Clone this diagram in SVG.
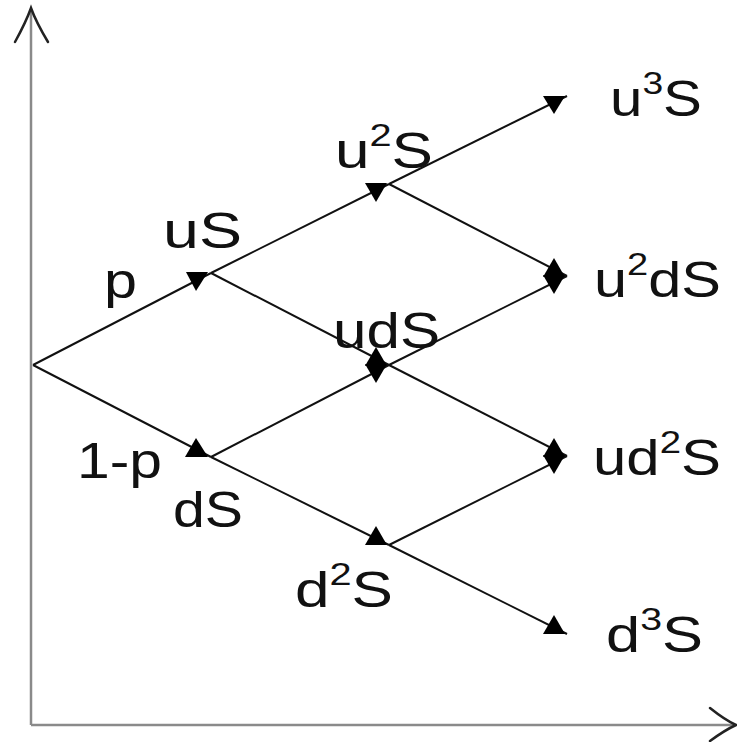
<svg xmlns="http://www.w3.org/2000/svg" width="737" height="742" viewBox="0 0 737 742">
  <style>
    .axis { stroke: #8a8a8a; stroke-width: 2.5; fill: none; }
    .axhead { stroke: #222; stroke-width: 2.5; fill: none; stroke-linecap: round; }
    .edge { stroke: #111; stroke-width: 2; fill: none; }
    .head { fill: #000; stroke: none; }
    text { font-family: "Liberation Sans", Arial, sans-serif; font-size: 50px; fill: #111; }
    .sup { font-size: 32px; }
  </style>
  <rect width="737" height="742" fill="#fff"/>

  <!-- axes -->
  <g id="axes">
    <line class="axis" x1="31" y1="10" x2="31" y2="725"/>
    <line class="axis" x1="31" y1="725" x2="735" y2="725"/>
    <path class="axhead" d="M15,42 Q26,22 31,8 Q36,22 48,42"/>
    <path class="axhead" d="M710,708 Q725,720 736,725 Q725,730 710,741"/>
  </g>

  <!-- branches of the tree -->
  <g id="connectors">
    <line class="edge" x1="33" y1="365" x2="211" y2="273"/>
    <line class="edge" x1="33" y1="365" x2="211" y2="457"/>
    <line class="edge" x1="211" y1="273" x2="389" y2="184"/>
    <line class="edge" x1="211" y1="273" x2="389" y2="365"/>
    <line class="edge" x1="211" y1="457" x2="389" y2="365"/>
    <line class="edge" x1="211" y1="457" x2="389" y2="545"/>
    <line class="edge" x1="389" y1="184" x2="567" y2="96"/>
    <line class="edge" x1="389" y1="184" x2="567" y2="276"/>
    <line class="edge" x1="389" y1="365" x2="567" y2="276"/>
    <line class="edge" x1="389" y1="365" x2="567" y2="456"/>
    <line class="edge" x1="389" y1="545" x2="567" y2="456"/>
    <line class="edge" x1="389" y1="545" x2="567" y2="634"/>
    <!-- arrowheads: rising branches -->
    <polygon class="head" points="186,272 208,272 196,291"/>
    <polygon class="head" points="365,183 387,183 376,202"/>
    <polygon class="head" points="365,364 387,364 376,383"/>
    <polygon class="head" points="543,96 565,96 554,114"/>
    <polygon class="head" points="543,275 565,275 554,294"/>
    <polygon class="head" points="543,455 565,455 554,474"/>
    <!-- arrowheads: falling branches -->
    <polygon class="head" points="196,438 185,457 208,457"/>
    <polygon class="head" points="376,347 365,366 387,366"/>
    <polygon class="head" points="376,526 365,545 387,545"/>
    <polygon class="head" points="554,258 543,277 565,277"/>
    <polygon class="head" points="554,438 543,457 565,457"/>
    <polygon class="head" points="554,615 543,634 565,634"/>
  </g>

  <!-- node labels -->
  <g id="n-u3S"><text x="610" y="116" textLength="92" lengthAdjust="spacingAndGlyphs">u<tspan class="sup" dy="-22">3</tspan><tspan dy="22">S</tspan></text></g>
  <g id="n-u2S"><text x="335" y="168" textLength="98" lengthAdjust="spacingAndGlyphs">u<tspan class="sup" dy="-22">2</tspan><tspan dy="22">S</tspan></text></g>
  <g id="n-uS"><text x="163" y="248" textLength="79" lengthAdjust="spacingAndGlyphs">uS</text></g>
  <g id="n-p"><text x="104" y="298" textLength="33" lengthAdjust="spacingAndGlyphs">p</text></g>
  <g id="n-u2dS"><text x="594" y="297" textLength="127" lengthAdjust="spacingAndGlyphs">u<tspan class="sup" dy="-22">2</tspan><tspan dy="22">dS</tspan></text></g>
  <g id="n-udS"><text x="333" y="348" textLength="107" lengthAdjust="spacingAndGlyphs">udS</text></g>
  <g id="n-1-p"><text x="77" y="478" textLength="85" lengthAdjust="spacingAndGlyphs">1-p</text></g>
  <g id="n-ud2S"><text x="593" y="475" textLength="128" lengthAdjust="spacingAndGlyphs">ud<tspan class="sup" dy="-22">2</tspan><tspan dy="22">S</tspan></text></g>
  <g id="n-dS"><text x="173" y="527" textLength="70" lengthAdjust="spacingAndGlyphs">dS</text></g>
  <g id="n-d2S"><text x="295" y="607" textLength="98" lengthAdjust="spacingAndGlyphs">d<tspan class="sup" dy="-22">2</tspan><tspan dy="22">S</tspan></text></g>
  <g id="n-d3S"><text x="606" y="652" textLength="97" lengthAdjust="spacingAndGlyphs">d<tspan class="sup" dy="-22">3</tspan><tspan dy="22">S</tspan></text></g>
</svg>
